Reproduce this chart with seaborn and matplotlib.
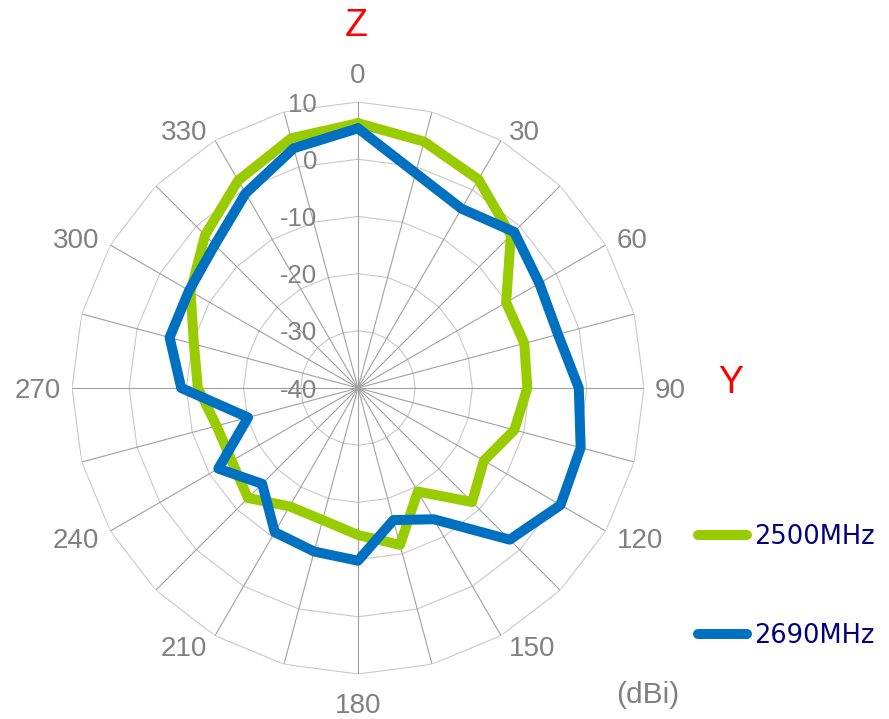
import numpy as np
import pandas as pd
import matplotlib
matplotlib.use("Agg")
import matplotlib.pyplot as plt
import seaborn as sns

# radiation pattern, gain in dBi every 15 degrees
angles = list(range(0, 360, 15))
gain_2500 = [6.3, 4.6, 2.1, -2.2, -10.1, -9.9, -10.4, -11.7, -14.6, -11.8, -19.1, -11.6,
             -14.3, -16.1, -16.1, -12.8, -14.5, -14.4, -12.0, -10.3, -6.2, -2.2, 1.9, 5.2]
gain_2690 = [5.4, -1.1, -3.8, -1.4, -3.4, -3.8, -1.4, 0.3, 0.9, -2.5, -13.5, -16.1,
             -9.8, -10.4, -10.9, -16.3, -11.8, -20.1, -9.1, -5.9, -5.9, -4.6, -0.7, 3.4]
series = ["2500MHz", "2690MHz"]
colors = ["#99cc00", "#0070c0"]
ring_levels = [-30, -20, -10, 0, 10]
r_labels = [10, 0, -10, -20, -30, -40]
label_angles = list(range(0, 360, 30))

sns.set_theme(style="white")
plt.rcParams["font.family"] = ["Liberation Sans", "DejaVu Sans"]

rows = []
for name, vals in zip(series, [gain_2500, gain_2690]):
    # close the loop
    for a, v in zip(angles + [360], vals + [vals[0]]):
        rows.append({"theta": np.deg2rad(a), "gain": v, "series": name})
df = pd.DataFrame(rows)

fig = plt.figure(figsize=(8.89, 7.19), dpi=100)
ax = fig.add_axes([72 / 889, 45 / 719, 572 / 889, 572 / 719], projection="polar")
ax.set_theta_zero_location("N")
ax.set_theta_direction(-1)

gray = "#808080"
theta = np.deg2rad(angles)
theta_closed = np.deg2rad(angles + [360])

# polygon rings and spokes like an Excel radar chart
for lvl in ring_levels:
    ax.plot(theta_closed, [lvl] * len(theta_closed), color="#c8c8c8", lw=0.8, zorder=1)
for t in theta:
    ax.plot([t, t], [r_labels[-1], r_labels[0]], color="#a0a0a0", lw=0.8, zorder=1)

sns.lineplot(data=df, x="theta", y="gain", hue="series", palette=colors,
             sort=False, estimator=None, lw=7.2, ax=ax, legend=False,
             solid_joinstyle="round", solid_capstyle="round", zorder=3)

ax.set_ylim(-40, 10)
ax.grid(False)
ax.spines["polar"].set_visible(False)
ax.set_xlabel("")
ax.set_ylabel("")
ax.set_yticks([])
ax.set_xticks([])

# category labels around the outer ring (Excel style placement)
side_pad = {0: 0, 30: 8, 60: 11, 90: 11}
vert_pad = {0: 29, 30: 10, 60: 7, 90: 0}
for a in label_angles:
    base = min(a % 180, 180 - a % 180)
    s = np.sign(round(np.sin(np.deg2rad(a)), 6))
    c = np.sign(round(np.cos(np.deg2rad(a)), 6))
    ha = "center" if s == 0 else ("left" if s > 0 else "right")
    off = (s * side_pad[base] * 0.72, (c * vert_pad[base] - 10) * 0.72)
    ax.annotate(str(a), xy=(np.deg2rad(a), r_labels[0]), xytext=off,
                textcoords="offset points", ha=ha, va="baseline",
                fontsize=20, color=gray, annotation_clip=False)

for lvl in r_labels:
    ax.annotate(str(lvl), xy=(0, lvl), xytext=(-29.5, 0), textcoords="offset points",
                ha="right", va="center_baseline", fontsize=18.5, color=gray)

handles = ax.get_lines()[-2:]
fig.legend(handles, series, loc="center left", bbox_to_anchor=(698 / 889, 1 - 586.5 / 719),
           frameon=False, prop={"family": "DejaVu Sans", "size": 18.5}, labelcolor="#000080",
           handlelength=1.9, handletextpad=0.27, labelspacing=2.87, borderpad=0, borderaxespad=0)

fig.text(356 / 889, 1 - 26 / 719, "Z", color="red", fontsize=27, ha="center", va="center")
fig.text(731 / 889, 1 - 383 / 719, "Y", color="red", fontsize=27, ha="center", va="center")
fig.text(648 / 889, 1 - 695 / 719, "(dBi)", color=gray, fontsize=21.5, ha="center", va="center")

fig.savefig("out.png", dpi=100, facecolor="white")
